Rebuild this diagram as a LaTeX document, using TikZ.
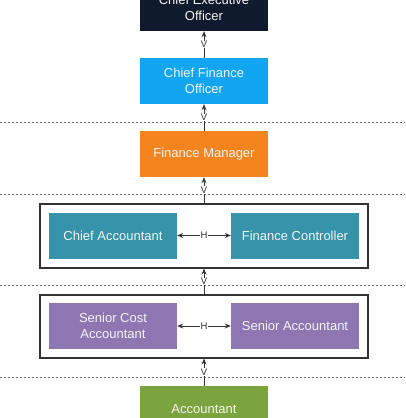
\documentclass[tikz,border=0pt]{standalone}
\usepackage{fontspec}
\setsansfont{Liberation Sans}
\usetikzlibrary{arrows.meta}
\definecolor{Navy}{HTML}{0F1B2C}
\definecolor{SkyBlue}{HTML}{12A6F2}
\definecolor{Orange}{HTML}{F5841F}
\definecolor{Teal}{HTML}{3693AA}
\definecolor{Lilac}{HTML}{8E76B2}
\definecolor{Olive}{HTML}{7BA43F}
\definecolor{Frame}{HTML}{333333}
\definecolor{Sep}{HTML}{6E6E6E}
\definecolor{Label}{HTML}{F4F4F4}

\begin{document}
\begin{tikzpicture}[x=1pt,y=-1pt,every node/.style={font=\sffamily\fontsize{13}{15.5}\selectfont},role/.style={rectangle,minimum width=128pt,minimum height=46pt,inner sep=2pt,align=center,text=Label},groupbox/.style={draw=Frame,line width=1.1pt,fill=white,minimum width=328pt,minimum height=64pt},level/.style={draw=Sep,dash pattern=on 2pt off 2pt,line width=0.8pt},vlink/.style={-{Stealth[length=6pt,width=5pt]},draw=Frame,line width=1pt},hlink/.style={{Stealth[length=6pt,width=5pt]}-{Stealth[length=6pt,width=5pt]},draw=Frame,line width=1pt},tag/.style={font=\sffamily\fontsize{9.5}{10}\selectfont,text=Frame,fill=white,inner sep=0.6pt}]
\clip (0,0) rectangle (405,418);
\useasboundingbox (0,0) rectangle (405,418);
\foreach \y in {122,194,285,377}{\draw[level] (0,\y)--(405,\y);}
\node[role,fill=Navy] (ceo) at (204,8) {Chief Executive\\Officer};
\node[role,fill=SkyBlue] (cfo) at (204,81) {Chief Finance\\Officer};
\node[role,fill=Orange] (fm) at (204,154) {Finance Manager};
\node[groupbox] (accgroup) at (204,236) {};
\node[role,fill=Teal] (ca) at (113,235.5) {Chief Accountant};
\node[role,fill=Teal] (fc) at (295,235.5) {Finance Controller};
\node[groupbox,minimum height=63pt] (seniorgroup) at (204,326.5) {};
\node[role,fill=Lilac] (sca) at (113,326) {Senior Cost\\Accountant};
\node[role,fill=Lilac] (sa) at (295,326) {Senior Accountant};
\node[role,fill=Olive] (acc) at (204,409) {Accountant};
\draw[vlink] (cfo) -- node[tag]{V} (ceo);
\draw[vlink] (fm) -- node[tag]{V} (cfo);
\draw[vlink] (accgroup) -- node[tag]{V} (fm);
\draw[hlink] (ca) -- node[tag]{H} (fc);
\draw[vlink] (seniorgroup) -- node[tag]{V} (accgroup);
\draw[hlink] (sca) -- node[tag]{H} (sa);
\draw[vlink] (acc) -- node[tag]{V} (seniorgroup);
\end{tikzpicture}
\end{document}
